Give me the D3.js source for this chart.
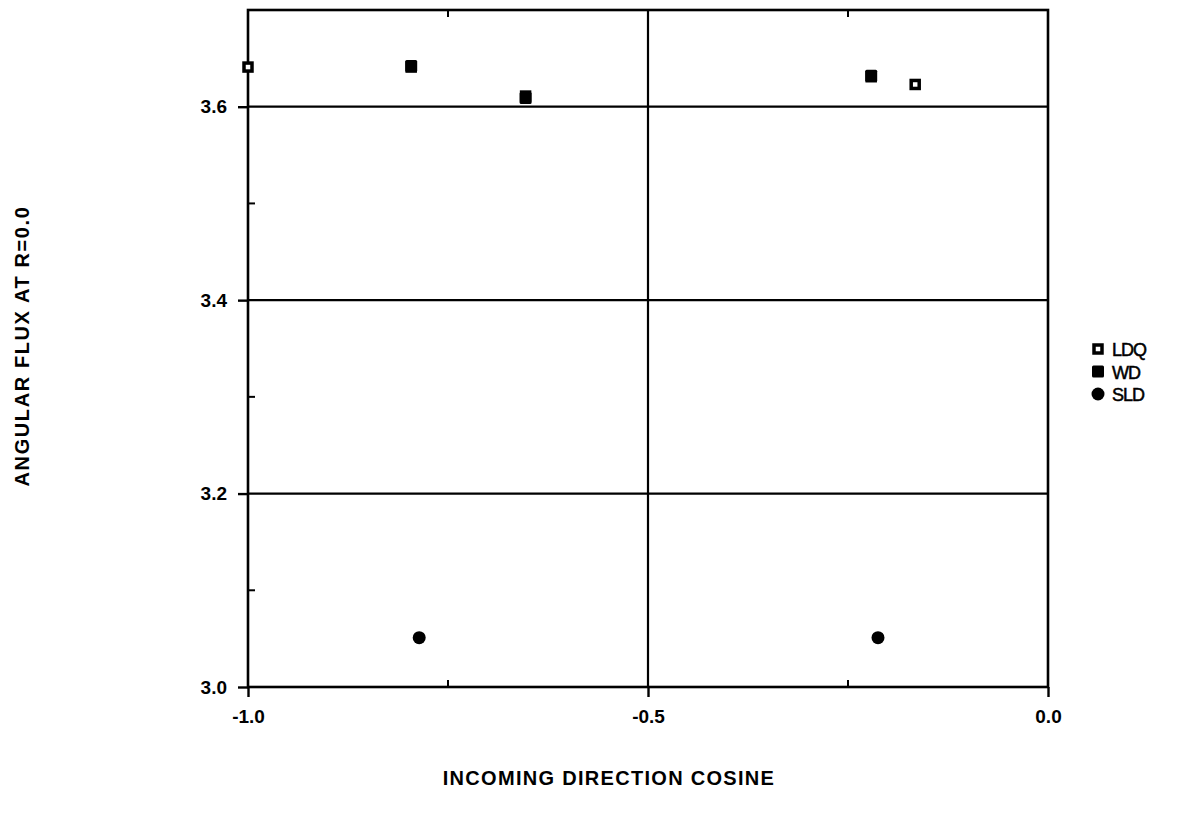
<!DOCTYPE html>
<html><head><meta charset="utf-8">
<script src="https://cdn.jsdelivr.net/npm/d3@7"></script>
<style>body{margin:0;background:#fff}svg{display:block}text{font-family:"Liberation Sans",Arial,sans-serif;fill:#000}</style>
</head><body>
<svg id="c" width="1194" height="813"></svg>
<script>
const ldqX = [-1.0, -0.796, -0.653, -0.221, -0.166];
const ldqY = [3.641, 3.641, 3.611, 3.631, 3.623];
const wdX = [-0.796, -0.653, -0.221];
const wdY = [3.642, 3.609, 3.632];
const sldX = [-0.786, -0.2125];
const sldY = [3.051, 3.051];
const xTicks = [-1.0, -0.5, 0.0];
const yTicks = [3.0, 3.2, 3.4, 3.6];
const xMinor = [-0.75, -0.25];
const yMinor = [3.1, 3.3, 3.5];
const seriesNames = ["LDQ", "WD", "SLD"];

const svg = d3.select("#c");
const x = d3.scaleLinear().domain([-1, 0]).range([248, 1048]);
const y = d3.scaleLinear().domain([3.0, 3.7]).range([687, 10]);

const g = svg.append("g");
g.selectAll(".hg").data([3.2, 3.4, 3.6]).join("line")
  .attr("x1", x(-1)).attr("x2", x(0)).attr("y1", d => y(d)).attr("y2", d => y(d))
  .attr("stroke", "#000").attr("stroke-width", 2.2);
g.append("line").attr("x1", x(-0.5)).attr("x2", x(-0.5)).attr("y1", y(3.7)).attr("y2", y(3.0))
  .attr("stroke", "#000").attr("stroke-width", 2.2);
g.append("rect").attr("x", x(-1)).attr("y", y(3.7)).attr("width", x(0) - x(-1)).attr("height", y(3.0) - y(3.7))
  .attr("fill", "none").attr("stroke", "#000").attr("stroke-width", 2.6);

const ax = d3.axisBottom(x).tickValues(xTicks).tickSize(10).tickPadding(13)
  .tickFormat(d => d3.format(".1f")(d).replace("\u2212", "-"));
const axG = g.append("g").attr("transform", `translate(0,${y(3.0)})`).call(ax);
axG.select(".domain").remove();
axG.selectAll("line").attr("stroke-width", 2.4);
axG.selectAll("text").attr("font-size", 19).attr("font-weight", "bold");

const ay = d3.axisLeft(y).tickValues(yTicks).tickFormat(d3.format(".1f")).tickSize(10).tickPadding(11);
const ayG = g.append("g").attr("transform", `translate(${x(-1)},0)`).call(ay);
ayG.select(".domain").remove();
ayG.selectAll("line").attr("stroke-width", 2.4);
ayG.selectAll("text").attr("font-size", 19).attr("font-weight", "bold");
axG.attr("font-family", null); ayG.attr("font-family", null);

g.selectAll(".ym").data(yMinor).join("line")
  .attr("x1", x(-1)).attr("x2", x(-1) + 7).attr("y1", d => y(d)).attr("y2", d => y(d))
  .attr("stroke", "#000").attr("stroke-width", 2);
g.selectAll(".xmb").data(xMinor).join("line")
  .attr("x1", d => x(d)).attr("x2", d => x(d)).attr("y1", y(3.0)).attr("y2", y(3.0) - 7)
  .attr("stroke", "#000").attr("stroke-width", 2);
g.selectAll(".xmt").data(xMinor).join("line")
  .attr("x1", d => x(d)).attr("x2", d => x(d)).attr("y1", y(3.7)).attr("y2", y(3.7) + 7)
  .attr("stroke", "#000").attr("stroke-width", 2);

function ldq(sel, cx, cy) {
  sel.append("rect").attr("x", cx - 4).attr("y", cy - 4).attr("width", 8).attr("height", 8)
    .attr("fill", "#fff").attr("stroke", "#000").attr("stroke-width", 3.5);
}
function wd(sel, cx, cy) {
  sel.append("rect").attr("x", cx - 6).attr("y", cy - 6).attr("width", 12).attr("height", 12)
    .attr("fill", "#000").attr("rx", 1.5);
}
function sld(sel, cx, cy) {
  sel.append("circle").attr("cx", cx).attr("cy", cy).attr("r", 6.5).attr("fill", "#000");
}
ldqX.forEach((d, i) => ldq(g, x(d), y(ldqY[i])));
wdX.forEach((d, i) => wd(g, x(d), y(wdY[i])));
sldX.forEach((d, i) => sld(g, x(d), y(sldY[i])));

const lg = svg.append("g");
const makers = [ldq, wd, sld];
seriesNames.forEach((n, i) => {
  const ly = 349 + i * 22.5;
  makers[i](lg, 1098, ly);
  lg.append("text").attr("x", 1112).attr("y", ly + 7).attr("font-size", 18)
    .attr("letter-spacing", -1).attr("stroke", "#000").attr("stroke-width", 0.5).text(n);
});

svg.append("text").attr("x", 609).attr("y", 785).attr("text-anchor", "middle").attr("font-size", 20)
  .attr("font-weight", "bold").attr("letter-spacing", 1.3).text("INCOMING DIRECTION COSINE");
svg.append("text").attr("transform", "translate(29,346) rotate(-90)").attr("text-anchor", "middle").attr("font-size", 20)
  .attr("font-weight", "bold").attr("letter-spacing", 1.6).text("ANGULAR FLUX AT R=0.0");
</script>
</body></html>
